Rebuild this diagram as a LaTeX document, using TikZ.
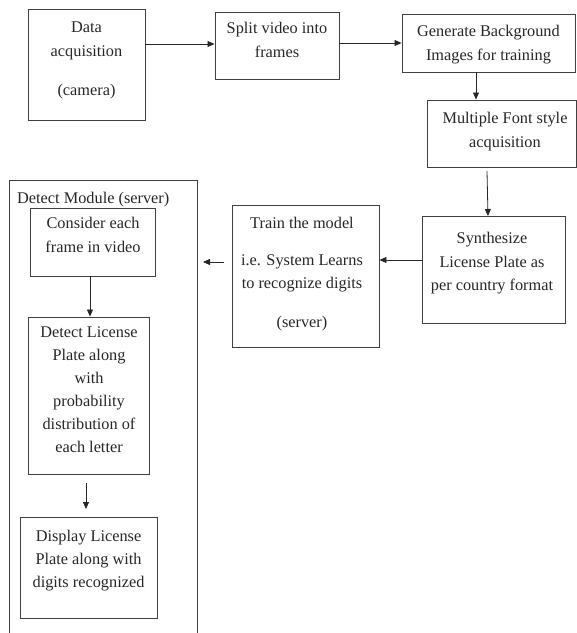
\documentclass[tikz,border=0pt]{standalone}
\usepackage{fontspec}
\setmainfont{Liberation Serif}
\usetikzlibrary{arrows.meta,fit,calc}
\definecolor{boxgray}{HTML}{404040}
\begin{document}
\begin{tikzpicture}[x=1pt,y=-1pt,
  box/.style={draw=boxgray,line width=0.9pt,inner sep=0pt,fit={#1}},
  txt/.style={font=\fontsize{16.3}{20}\selectfont,anchor=base,inner sep=0pt,text=black!85},
  arr/.style={-{Triangle[length=7pt,width=6pt]},line width=0.8pt,black!85}]
\useasboundingbox (0,0) rectangle (577,633);
% boxes
\node[box={(28,9) (145,120)}] (b1) {};
\node[box={(215,12) (339,79)}] (b2) {};
\node[box={(402,14) (575,72)}] (b3) {};
\node[box={(427,100) (576,167)}] (b4) {};
\node[box={(422,216) (565,323)}] (b5) {};
\node[box={(232,205) (379,347)}] (b6) {};
\node[box={(30,208) (155,276)}] (b7) {};
\node[box={(28,317) (149,474)}] (b8) {};
\node[box={(20,517) (157,618)}] (b9) {};
% outer module frame (open at the bottom)
\draw[boxgray,line width=0.9pt] (9,640) -- (9,180) -- (197,180) -- (197,640);
% texts
\node[txt] at (86.5,32) {Data};
\node[txt] at (86.5,56) {acquisition};
\node[txt] at (86.5,95) {(camera)};
\node[txt] at (277,33) {Split video into};
\node[txt] at (277,57) {frames};
\node[txt] at (488.5,36) {Generate Background};
\node[txt] at (488.5,60) {Images for training};
\node[txt] at (505,123) {Multiple Font style};
\node[txt] at (505,147) {acquisition};
\node[txt] at (492,243) {Synthesize};
\node[txt] at (492,267) {License Plate as};
\node[txt] at (492,290) {per country format};
\node[txt] at (302,228) {Train the model};
\node[txt] at (302,265) {i.e. System Learns};
\node[txt] at (302,288) {to recognize digits};
\node[txt] at (302,327) {(server)};
\node[txt,anchor=base west] at (17,203) {Detect Module (server)};
\node[txt] at (93,228) {Consider each};
\node[txt] at (93,252) {frame in video};
\node[txt] at (89,337) {Detect License};
\node[txt] at (89,360) {Plate along};
\node[txt] at (89,383) {with};
\node[txt] at (89,406) {probability};
\node[txt] at (89,429) {distribution of};
\node[txt] at (89,452) {each letter};
\node[txt] at (88.5,541) {Display License};
\node[txt] at (88.5,564) {Plate along with};
\node[txt] at (88.5,587) {digits recognized};
% connectors
\coordinate (c1) at (145,44);
\draw[arr] (c1) -- (c1 -| b2.west);
\coordinate (c2) at (339,43);
\draw[arr] (c2) -- (c2 -| b3.west);
\coordinate (c3) at (476,72);
\draw[arr] (c3) -- (c3 |- b4.north);
\coordinate (c4s) at (487,171);
\coordinate (c4e) at (488,216);
\draw[arr] (c4s) -- (c4e);
\coordinate (c5) at (422,260);
\draw[arr] (c5) -- (c5 -| b6.east);
\coordinate (f1) at (224,262);
\coordinate (f2) at (203,262);
\draw[arr] (f1) -- (f2);
\coordinate (c7) at (90,276);
\draw[arr] (c7) -- (c7 |- b8.north);
\coordinate (f3) at (86,483);
\coordinate (f4) at (86,509);
\draw[arr] (f3) -- (f4);
\end{tikzpicture}
\end{document}
